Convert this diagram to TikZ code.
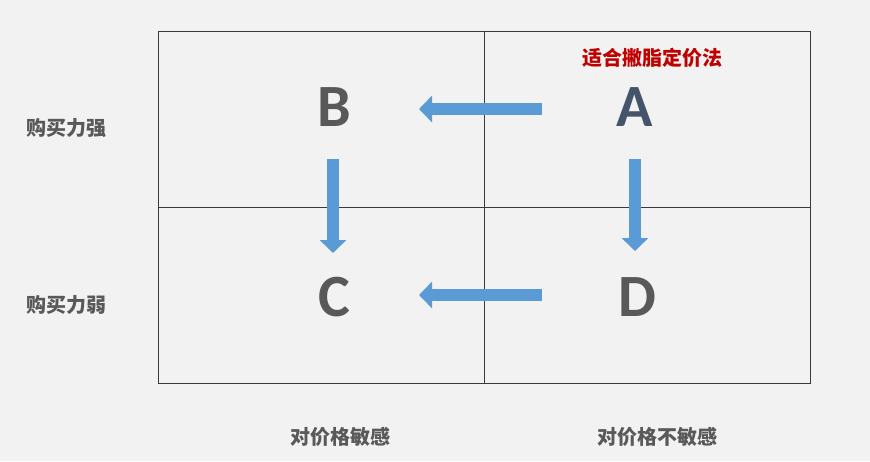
\documentclass[tikz,border=0pt]{standalone}
\usepackage{fontspec}
\setmainfont{Carlito}
\newfontfamily\cjk{Noto Sans CJK SC}
\usetikzlibrary{arrows.meta}
\definecolor{bg}{HTML}{F2F2F2}
\definecolor{gridc}{HTML}{3A3A3A}
\definecolor{arrowblue}{HTML}{5B9BD5}
\definecolor{lettergray}{HTML}{595959}
\definecolor{letterblue}{HTML}{44546A}
\definecolor{labelgray}{HTML}{595959}
\definecolor{redlabel}{HTML}{C00000}
\tikzset{
  letter/.style={font=\fontsize{60}{60}\selectfont\bfseries, text=lettergray, inner sep=0pt},
  axislabel/.style={font=\cjk\fontsize{20}{20}\selectfont\bfseries, text=labelgray, inner sep=0pt},
  gridline/.style={draw=gridc, line width=0.9pt},
  bigarrow/.style={draw=arrowblue, line width=12pt, -{Triangle[width=26pt,length=13pt]}}
}
\begin{document}
\begin{tikzpicture}[x=1pt,y=-1pt]
\useasboundingbox[fill=bg] (0,0) rectangle (870,461);
% grid
\draw[gridline] (158,31) rectangle (810,383);
\draw[gridline] (484,31) -- (484,383);
\draw[gridline] (158,207) -- (810,207);
% letters
\node[letter] (B) at (334,107) {B};
\node[letter, text=letterblue] (A) at (635,107) {A};
\node[letter] (C) at (334,297) {C};
\node[letter] (D) at (637,297) {D};
% red label
\node[axislabel, text=redlabel] (skim) at (652,58) {适合撇脂定价法};
% axis labels
\node[axislabel] (strong) at (67,128) {购买力强};
\node[axislabel] (weak) at (66,305) {购买力弱};
\node[axislabel] (sens) at (340,437) {对价格敏感};
\node[axislabel] (insens) at (657,437) {对价格不敏感};
% arrow anchors
\coordinate (a1s) at (542,109);
\coordinate (a1e) at (419,109);
\coordinate (a2s) at (542,295);
\coordinate (a2e) at (419,295);
\coordinate (a3s) at (333,159);
\coordinate (a3e) at (333,253);
\coordinate (a4s) at (635,159);
\coordinate (a4e) at (635,251);
\draw[bigarrow] (a1s) -- (a1e);
\draw[bigarrow] (a2s) -- (a2e);
\draw[bigarrow] (a3s) -- (a3e);
\draw[bigarrow] (a4s) -- (a4e);
\end{tikzpicture}
\end{document}
